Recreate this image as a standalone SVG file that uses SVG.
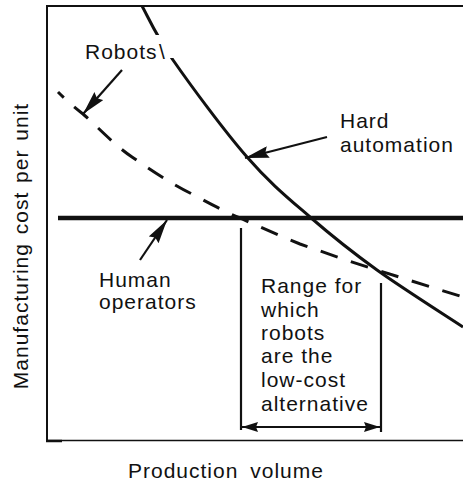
<svg xmlns="http://www.w3.org/2000/svg" width="463" height="483" viewBox="0 0 463 483">
  <style>
    text { font-family: "Liberation Sans", Arial, Helvetica, sans-serif; font-size: 21px; fill: #111; letter-spacing: 1px; }
    .axis { stroke: #111; fill: none; }
    .curve { stroke: #111; fill: none; stroke-width: 3; stroke-linecap: butt; }
    .pointer { stroke: #111; stroke-width: 2.2; fill: none; }
  </style>
  <defs>
    <marker id="head" viewBox="0 0 24 12" refX="24" refY="6" markerWidth="24" markerHeight="12" markerUnits="userSpaceOnUse" orient="auto">
      <path d="M0,0 L24,6 L0,12 L3,6 z" fill="#111"/>
    </marker>
    <marker id="head-small" viewBox="0 0 16 10" refX="16" refY="5" markerWidth="16" markerHeight="10" markerUnits="userSpaceOnUse" orient="auto-start-reverse">
      <path d="M0,0 L16,5 L0,10 L2,5 z" fill="#111"/>
    </marker>
    <!-- gap in the hard-automation curve where the label's backslash sits -->
    <mask id="hard-gap" maskUnits="userSpaceOnUse" x="0" y="0" width="463" height="483">
      <rect x="0" y="0" width="463" height="483" fill="#fff"/>
      <rect x="145" y="35" width="40" height="23" fill="#000"/>
    </mask>
  </defs>

  <!-- frame and axes -->
  <g id="axes">
    <line class="axis" x1="47" y1="5" x2="47" y2="441" stroke-width="2"/>
    <line class="axis" x1="46" y1="6" x2="463" y2="6" stroke-width="2"/>
    <line class="axis" x1="46" y1="440.5" x2="463" y2="440.5" stroke-width="1.6"/>
    <line class="axis" x1="46" y1="441" x2="62" y2="441" stroke-width="2.5"/>
    <text transform="translate(28,246) rotate(-90)" text-anchor="middle" letter-spacing="1.7" word-spacing="2">Manufacturing cost per unit</text>
    <text x="128" y="478" word-spacing="5">Production volume</text>
  </g>

  <!-- cost curves -->
  <g id="curve-hard">
    <path class="curve" mask="url(#hard-gap)" d="M142,6 C147.2,15 155.5,34.8 173,60 C190.5,85.2 224.2,130.8 247,157 C269.8,183.2 288.3,198.2 310,217 C331.7,235.8 351.5,251.7 377,270 C402.5,288.3 448.7,317.5 463,327"/>
  </g>
  <g id="curve-robots">
    <path class="curve" stroke-dasharray="18 14" stroke-dashoffset="10" d="M58,92 C66,100 74,107 83,114 C99,128 113,144 132,157 C151,170 170,183 190,193 C207,202 223,211 240,218 C260,227 280,236 300,244 C326,253 351,262 377,270 C405,279 434,288 463,297"/>
  </g>
  <g id="line-human">
    <line x1="58" y1="218" x2="463" y2="218" stroke="#111" stroke-width="4.5"/>
  </g>

  <!-- labels -->
  <g id="label-robots">
    <text x="85" y="59">Robots<tspan x="159">\</tspan></text>
  </g>
  <g id="label-hard">
    <text x="340" y="128">Hard</text>
    <text x="340" y="152">automation</text>
  </g>
  <g id="label-human">
    <text x="99" y="287">Human</text>
    <text x="99" y="309">operators</text>
  </g>

  <!-- range where robots are cheapest -->
  <g id="range">
    <line x1="241" y1="228" x2="241" y2="430" stroke="#111" stroke-width="2.2"/>
    <line x1="381" y1="283" x2="381" y2="432" stroke="#111" stroke-width="2.2"/>
    <line x1="242" y1="427" x2="380" y2="427" stroke="#111" stroke-width="2" marker-start="url(#head-small)" marker-end="url(#head-small)"/>
    <text x="261" y="293">Range for</text>
    <text x="261" y="317">which</text>
    <text x="261" y="340">robots</text>
    <text x="261" y="363">are the</text>
    <text x="261" y="387">low-cost</text>
    <text x="261" y="411">alternative</text>
  </g>

  <!-- label pointers -->
  <g id="connectors">
    <line class="pointer" x1="122" y1="70" x2="83" y2="114" marker-end="url(#head)"/>
    <line class="pointer" x1="327" y1="137" x2="245" y2="158" marker-end="url(#head)"/>
    <line class="pointer" x1="140" y1="260" x2="167" y2="220" marker-end="url(#head)"/>
  </g>
</svg>
